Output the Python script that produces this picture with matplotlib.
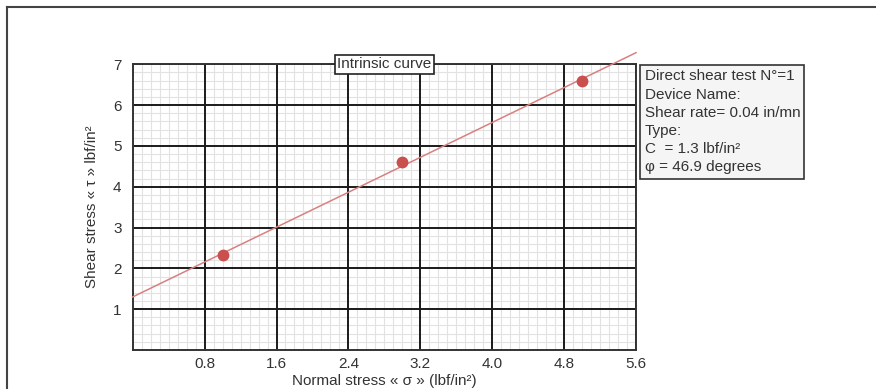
import numpy as np
import matplotlib
matplotlib.use("Agg")
import matplotlib.pyplot as plt
from matplotlib.lines import Line2D
from matplotlib.ticker import FixedLocator

plt.rcParams['font.family'] = ['Liberation Sans', 'DejaVu Sans']

# test points
sigma = [1.0, 3.0, 5.0]
tau = [2.32, 4.6, 6.6]

# fitted intrinsic curve
cohesion = 1.3
phi_deg = 46.9
x_line = [0.0, 5.6]

x_ticks = [0.8, 1.6, 2.4, 3.2, 4.0, 4.8, 5.6]
x_tick_labels = ['0.8', '1.6', '2.4', '3.2', '4.0', '4.8', '5.6']
y_ticks = [1, 2, 3, 4, 5, 6, 7]

info_lines = ['Direct shear test N°=1',
              'Device Name:',
              'Shear rate= 0.04 in/mn',
              'Type:',
              'C  = 1.3 lbf/in²',
              'φ = 46.9 degrees']

fig = plt.figure(figsize=(8.76, 3.89), dpi=100)
ax = fig.add_axes([0.1515, 0.1003, 0.5745, 0.7344])

ax.set_xlim(0, 5.6)
ax.set_ylim(0, 7)
ax.set_xticks(x_ticks)
ax.set_xticklabels(x_tick_labels)
ax.set_yticks(y_ticks)

# minor grid: every 0.1 on x, 0.2 on y
xm = [i / 10 for i in range(1, 56) if i % 8 != 0]
ym = [i / 5 for i in range(1, 35) if i % 5 != 0]
ax.xaxis.set_minor_locator(FixedLocator(xm))
ax.yaxis.set_minor_locator(FixedLocator(ym))
ax.grid(which='minor', color='#e2e2e2', lw=0.8)
ax.set_axisbelow(True)

# major grid drawn on top of the minor one
ax.vlines(x_ticks, 0, 7, color='#1a1a1a', lw=1.4, zorder=1.5)
ax.hlines(y_ticks, 0, 5.6, color='#1a1a1a', lw=1.4, zorder=1.5)

for s in ax.spines.values():
    s.set_color('#333333')
    s.set_linewidth(1.4)

ax.tick_params(which='both', length=0, labelsize=11, colors='#333333')
ax.tick_params(axis='y', pad=8)
ax.tick_params(axis='x', pad=5)

# line + points
tan_phi = np.tan(np.radians(phi_deg))
y_line = [cohesion + tan_phi * x for x in x_line]
ax.plot(x_line, y_line, color='#d98080', lw=1.1, clip_on=False, zorder=3)
ax.plot(sigma, tau, 'o', color='#c9504d', ms=7.5, zorder=4, clip_on=False)

ax.set_xlabel('Normal stress « σ » (lbf/in²)', fontsize=11, labelpad=2, color='#333333')
ax.set_ylabel('Shear stress « τ » lbf/in²', fontsize=11, labelpad=10, color='#333333')

ax.text(0.5, 1.0, 'Intrinsic curve', transform=ax.transAxes, ha='center', va='center',
        fontsize=11, color='#333333', zorder=6,
        bbox=dict(boxstyle='square,pad=0.15', fc='white', ec='#222222', lw=1.2))

ax.text(1.017, 0.982, '\n'.join(info_lines), transform=ax.transAxes, ha='left', va='top',
        fontsize=11, color='#333333', linespacing=1.38,
        bbox=dict(boxstyle='square,pad=0.28', fc='#f5f5f5', ec='#333333', lw=1.2))

# outer frame lines (top and left)
fig.add_artist(Line2D([0.008, 1.0], [0.981, 0.981], transform=fig.transFigure, color='#444444', lw=1.5))
fig.add_artist(Line2D([0.008, 0.008], [0.0, 0.981], transform=fig.transFigure, color='#444444', lw=1.5))

fig.savefig('out.png', dpi=100)
